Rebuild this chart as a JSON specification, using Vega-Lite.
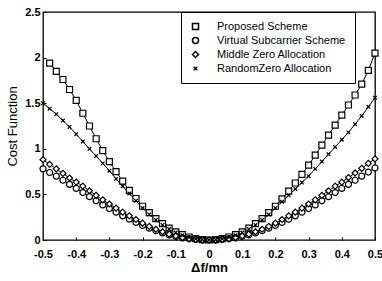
{
  "$schema": "https://vega.github.io/schema/vega-lite/v6.json",
  "width": 332,
  "height": 228,
  "autosize": "none",
  "padding": {"left": 43, "top": 12, "right": 7, "bottom": 41},
  "background": "white",
  "config": {
    "font": "Liberation Sans",
    "view": {"stroke": "black", "strokeWidth": 1.3},
    "axis": {"domain": false, "grid": false, "tickColor": "black", "tickSize": -3, "labelColor": "black", "labelFont": "Liberation Sans", "labelFontSize": 11, "labelFontWeight": "bold", "titleColor": "black", "titleFont": "Liberation Sans"}
  },
  "data": {"values": [
    {"s":"Proposed Scheme","x":-0.48,"y":1.94},{"s":"Proposed Scheme","x":-0.46,"y":1.85},{"s":"Proposed Scheme","x":-0.44,"y":1.76},{"s":"Proposed Scheme","x":-0.42,"y":1.65},{"s":"Proposed Scheme","x":-0.40,"y":1.53},{"s":"Proposed Scheme","x":-0.38,"y":1.39},{"s":"Proposed Scheme","x":-0.36,"y":1.25},{"s":"Proposed Scheme","x":-0.34,"y":1.11},{"s":"Proposed Scheme","x":-0.32,"y":0.98},{"s":"Proposed Scheme","x":-0.30,"y":0.86},{"s":"Proposed Scheme","x":-0.28,"y":0.75},{"s":"Proposed Scheme","x":-0.26,"y":0.645},{"s":"Proposed Scheme","x":-0.24,"y":0.545},{"s":"Proposed Scheme","x":-0.22,"y":0.455},{"s":"Proposed Scheme","x":-0.20,"y":0.37},{"s":"Proposed Scheme","x":-0.18,"y":0.30},{"s":"Proposed Scheme","x":-0.16,"y":0.235},{"s":"Proposed Scheme","x":-0.14,"y":0.18},{"s":"Proposed Scheme","x":-0.12,"y":0.13},{"s":"Proposed Scheme","x":-0.10,"y":0.09},{"s":"Proposed Scheme","x":-0.08,"y":0.058},{"s":"Proposed Scheme","x":-0.06,"y":0.033},{"s":"Proposed Scheme","x":-0.04,"y":0.015},{"s":"Proposed Scheme","x":-0.02,"y":0.004},{"s":"Proposed Scheme","x":0,"y":0},{"s":"Proposed Scheme","x":0.02,"y":0.004},{"s":"Proposed Scheme","x":0.04,"y":0.015},{"s":"Proposed Scheme","x":0.06,"y":0.033},{"s":"Proposed Scheme","x":0.08,"y":0.058},{"s":"Proposed Scheme","x":0.10,"y":0.09},{"s":"Proposed Scheme","x":0.12,"y":0.13},{"s":"Proposed Scheme","x":0.14,"y":0.18},{"s":"Proposed Scheme","x":0.16,"y":0.235},{"s":"Proposed Scheme","x":0.18,"y":0.30},{"s":"Proposed Scheme","x":0.20,"y":0.37},{"s":"Proposed Scheme","x":0.22,"y":0.45},{"s":"Proposed Scheme","x":0.24,"y":0.535},{"s":"Proposed Scheme","x":0.26,"y":0.625},{"s":"Proposed Scheme","x":0.28,"y":0.72},{"s":"Proposed Scheme","x":0.30,"y":0.82},{"s":"Proposed Scheme","x":0.32,"y":0.93},{"s":"Proposed Scheme","x":0.34,"y":1.04},{"s":"Proposed Scheme","x":0.36,"y":1.15},{"s":"Proposed Scheme","x":0.38,"y":1.26},{"s":"Proposed Scheme","x":0.40,"y":1.37},{"s":"Proposed Scheme","x":0.42,"y":1.48},{"s":"Proposed Scheme","x":0.44,"y":1.59},{"s":"Proposed Scheme","x":0.46,"y":1.71},{"s":"Proposed Scheme","x":0.48,"y":1.86},{"s":"Proposed Scheme","x":0.50,"y":2.05},

    {"s":"Virtual Subcarrier Scheme","x":-0.50,"y":0.78},{"s":"Virtual Subcarrier Scheme","x":-0.48,"y":0.74},{"s":"Virtual Subcarrier Scheme","x":-0.46,"y":0.70},{"s":"Virtual Subcarrier Scheme","x":-0.44,"y":0.655},{"s":"Virtual Subcarrier Scheme","x":-0.42,"y":0.61},{"s":"Virtual Subcarrier Scheme","x":-0.40,"y":0.565},{"s":"Virtual Subcarrier Scheme","x":-0.38,"y":0.52},{"s":"Virtual Subcarrier Scheme","x":-0.36,"y":0.475},{"s":"Virtual Subcarrier Scheme","x":-0.34,"y":0.43},{"s":"Virtual Subcarrier Scheme","x":-0.32,"y":0.385},{"s":"Virtual Subcarrier Scheme","x":-0.30,"y":0.345},{"s":"Virtual Subcarrier Scheme","x":-0.28,"y":0.305},{"s":"Virtual Subcarrier Scheme","x":-0.26,"y":0.265},{"s":"Virtual Subcarrier Scheme","x":-0.24,"y":0.228},{"s":"Virtual Subcarrier Scheme","x":-0.22,"y":0.193},{"s":"Virtual Subcarrier Scheme","x":-0.20,"y":0.16},{"s":"Virtual Subcarrier Scheme","x":-0.18,"y":0.13},{"s":"Virtual Subcarrier Scheme","x":-0.16,"y":0.102},{"s":"Virtual Subcarrier Scheme","x":-0.14,"y":0.077},{"s":"Virtual Subcarrier Scheme","x":-0.12,"y":0.056},{"s":"Virtual Subcarrier Scheme","x":-0.10,"y":0.038},{"s":"Virtual Subcarrier Scheme","x":-0.08,"y":0.023},{"s":"Virtual Subcarrier Scheme","x":-0.06,"y":0.013},{"s":"Virtual Subcarrier Scheme","x":-0.04,"y":0.006},{"s":"Virtual Subcarrier Scheme","x":-0.02,"y":0.0015},{"s":"Virtual Subcarrier Scheme","x":0,"y":0},{"s":"Virtual Subcarrier Scheme","x":0.02,"y":0.0015},{"s":"Virtual Subcarrier Scheme","x":0.04,"y":0.006},{"s":"Virtual Subcarrier Scheme","x":0.06,"y":0.013},{"s":"Virtual Subcarrier Scheme","x":0.08,"y":0.023},{"s":"Virtual Subcarrier Scheme","x":0.10,"y":0.038},{"s":"Virtual Subcarrier Scheme","x":0.12,"y":0.056},{"s":"Virtual Subcarrier Scheme","x":0.14,"y":0.077},{"s":"Virtual Subcarrier Scheme","x":0.16,"y":0.102},{"s":"Virtual Subcarrier Scheme","x":0.18,"y":0.13},{"s":"Virtual Subcarrier Scheme","x":0.20,"y":0.16},{"s":"Virtual Subcarrier Scheme","x":0.22,"y":0.193},{"s":"Virtual Subcarrier Scheme","x":0.24,"y":0.228},{"s":"Virtual Subcarrier Scheme","x":0.26,"y":0.265},{"s":"Virtual Subcarrier Scheme","x":0.28,"y":0.305},{"s":"Virtual Subcarrier Scheme","x":0.30,"y":0.345},{"s":"Virtual Subcarrier Scheme","x":0.32,"y":0.385},{"s":"Virtual Subcarrier Scheme","x":0.34,"y":0.43},{"s":"Virtual Subcarrier Scheme","x":0.36,"y":0.475},{"s":"Virtual Subcarrier Scheme","x":0.38,"y":0.52},{"s":"Virtual Subcarrier Scheme","x":0.40,"y":0.565},{"s":"Virtual Subcarrier Scheme","x":0.42,"y":0.61},{"s":"Virtual Subcarrier Scheme","x":0.44,"y":0.655},{"s":"Virtual Subcarrier Scheme","x":0.46,"y":0.70},{"s":"Virtual Subcarrier Scheme","x":0.48,"y":0.745},{"s":"Virtual Subcarrier Scheme","x":0.50,"y":0.79},

    {"s":"Middle Zero Allocation","x":-0.50,"y":0.88},{"s":"Middle Zero Allocation","x":-0.48,"y":0.83},{"s":"Middle Zero Allocation","x":-0.46,"y":0.78},{"s":"Middle Zero Allocation","x":-0.44,"y":0.73},{"s":"Middle Zero Allocation","x":-0.42,"y":0.68},{"s":"Middle Zero Allocation","x":-0.40,"y":0.635},{"s":"Middle Zero Allocation","x":-0.38,"y":0.59},{"s":"Middle Zero Allocation","x":-0.36,"y":0.54},{"s":"Middle Zero Allocation","x":-0.34,"y":0.49},{"s":"Middle Zero Allocation","x":-0.32,"y":0.44},{"s":"Middle Zero Allocation","x":-0.30,"y":0.395},{"s":"Middle Zero Allocation","x":-0.28,"y":0.35},{"s":"Middle Zero Allocation","x":-0.26,"y":0.305},{"s":"Middle Zero Allocation","x":-0.24,"y":0.265},{"s":"Middle Zero Allocation","x":-0.22,"y":0.225},{"s":"Middle Zero Allocation","x":-0.20,"y":0.185},{"s":"Middle Zero Allocation","x":-0.18,"y":0.15},{"s":"Middle Zero Allocation","x":-0.16,"y":0.118},{"s":"Middle Zero Allocation","x":-0.14,"y":0.09},{"s":"Middle Zero Allocation","x":-0.12,"y":0.065},{"s":"Middle Zero Allocation","x":-0.10,"y":0.044},{"s":"Middle Zero Allocation","x":-0.08,"y":0.027},{"s":"Middle Zero Allocation","x":-0.06,"y":0.015},{"s":"Middle Zero Allocation","x":-0.04,"y":0.007},{"s":"Middle Zero Allocation","x":-0.02,"y":0.002},{"s":"Middle Zero Allocation","x":0,"y":0},{"s":"Middle Zero Allocation","x":0.02,"y":0.002},{"s":"Middle Zero Allocation","x":0.04,"y":0.007},{"s":"Middle Zero Allocation","x":0.06,"y":0.015},{"s":"Middle Zero Allocation","x":0.08,"y":0.027},{"s":"Middle Zero Allocation","x":0.10,"y":0.044},{"s":"Middle Zero Allocation","x":0.12,"y":0.065},{"s":"Middle Zero Allocation","x":0.14,"y":0.09},{"s":"Middle Zero Allocation","x":0.16,"y":0.118},{"s":"Middle Zero Allocation","x":0.18,"y":0.15},{"s":"Middle Zero Allocation","x":0.20,"y":0.185},{"s":"Middle Zero Allocation","x":0.22,"y":0.225},{"s":"Middle Zero Allocation","x":0.24,"y":0.265},{"s":"Middle Zero Allocation","x":0.26,"y":0.305},{"s":"Middle Zero Allocation","x":0.28,"y":0.35},{"s":"Middle Zero Allocation","x":0.30,"y":0.395},{"s":"Middle Zero Allocation","x":0.32,"y":0.44},{"s":"Middle Zero Allocation","x":0.34,"y":0.49},{"s":"Middle Zero Allocation","x":0.36,"y":0.54},{"s":"Middle Zero Allocation","x":0.38,"y":0.59},{"s":"Middle Zero Allocation","x":0.40,"y":0.635},{"s":"Middle Zero Allocation","x":0.42,"y":0.685},{"s":"Middle Zero Allocation","x":0.44,"y":0.735},{"s":"Middle Zero Allocation","x":0.46,"y":0.785},{"s":"Middle Zero Allocation","x":0.48,"y":0.84},{"s":"Middle Zero Allocation","x":0.50,"y":0.89},

    {"s":"RandomZero Allocation","x":-0.50,"y":1.50},{"s":"RandomZero Allocation","x":-0.48,"y":1.44},{"s":"RandomZero Allocation","x":-0.46,"y":1.38},{"s":"RandomZero Allocation","x":-0.44,"y":1.31},{"s":"RandomZero Allocation","x":-0.42,"y":1.24},{"s":"RandomZero Allocation","x":-0.40,"y":1.16},{"s":"RandomZero Allocation","x":-0.38,"y":1.08},{"s":"RandomZero Allocation","x":-0.36,"y":1.00},{"s":"RandomZero Allocation","x":-0.34,"y":0.92},{"s":"RandomZero Allocation","x":-0.32,"y":0.84},{"s":"RandomZero Allocation","x":-0.30,"y":0.76},{"s":"RandomZero Allocation","x":-0.28,"y":0.67},{"s":"RandomZero Allocation","x":-0.26,"y":0.59},{"s":"RandomZero Allocation","x":-0.24,"y":0.51},{"s":"RandomZero Allocation","x":-0.22,"y":0.43},{"s":"RandomZero Allocation","x":-0.20,"y":0.35},{"s":"RandomZero Allocation","x":-0.18,"y":0.28},{"s":"RandomZero Allocation","x":-0.16,"y":0.22},{"s":"RandomZero Allocation","x":-0.14,"y":0.165},{"s":"RandomZero Allocation","x":-0.12,"y":0.12},{"s":"RandomZero Allocation","x":-0.10,"y":0.082},{"s":"RandomZero Allocation","x":-0.08,"y":0.052},{"s":"RandomZero Allocation","x":-0.06,"y":0.029},{"s":"RandomZero Allocation","x":-0.04,"y":0.013},{"s":"RandomZero Allocation","x":-0.02,"y":0.003},{"s":"RandomZero Allocation","x":0,"y":0},{"s":"RandomZero Allocation","x":0.02,"y":0.003},{"s":"RandomZero Allocation","x":0.04,"y":0.013},{"s":"RandomZero Allocation","x":0.06,"y":0.029},{"s":"RandomZero Allocation","x":0.08,"y":0.052},{"s":"RandomZero Allocation","x":0.10,"y":0.082},{"s":"RandomZero Allocation","x":0.12,"y":0.12},{"s":"RandomZero Allocation","x":0.14,"y":0.165},{"s":"RandomZero Allocation","x":0.16,"y":0.22},{"s":"RandomZero Allocation","x":0.18,"y":0.28},{"s":"RandomZero Allocation","x":0.20,"y":0.35},{"s":"RandomZero Allocation","x":0.22,"y":0.42},{"s":"RandomZero Allocation","x":0.24,"y":0.49},{"s":"RandomZero Allocation","x":0.26,"y":0.56},{"s":"RandomZero Allocation","x":0.28,"y":0.63},{"s":"RandomZero Allocation","x":0.30,"y":0.70},{"s":"RandomZero Allocation","x":0.32,"y":0.78},{"s":"RandomZero Allocation","x":0.34,"y":0.86},{"s":"RandomZero Allocation","x":0.36,"y":0.94},{"s":"RandomZero Allocation","x":0.38,"y":1.02},{"s":"RandomZero Allocation","x":0.40,"y":1.10},{"s":"RandomZero Allocation","x":0.42,"y":1.18},{"s":"RandomZero Allocation","x":0.44,"y":1.27},{"s":"RandomZero Allocation","x":0.46,"y":1.36},{"s":"RandomZero Allocation","x":0.48,"y":1.46},{"s":"RandomZero Allocation","x":0.50,"y":1.56}
  ]},
  "encoding": {
    "x": {"field": "x", "type": "quantitative", "scale": {"domain": [-0.5, 0.5], "nice": false},
      "axis": {"title": "Δf/mn", "values": [-0.5,-0.4,-0.3,-0.2,-0.1,0,0.1,0.2,0.3,0.4,0.5], "labelExpr": "datum.value < 0 ? '-' + format(-datum.value, '~g') : format(datum.value, '~g')", "labelPadding": 11, "labelFlush": false, "labelOverlap": false, "titleFontSize": 13, "titleFontWeight": "bold", "titlePadding": 2}},
    "y": {"field": "y", "type": "quantitative", "scale": {"domain": [0, 2.5], "nice": false},
      "axis": {"title": "Cost Function", "values": [0,0.5,1,1.5,2,2.5], "labelExpr": "format(datum.value, '~g')", "labelPadding": 6, "labelFlush": false, "titleFontSize": 13, "titleFontWeight": "normal", "titlePadding": 5}}
  },
  "layer": [
    {"mark": {"type": "line", "color": "black", "strokeWidth": 1}, "encoding": {"detail": {"field": "s"}}},
    {"mark": {"type": "point", "filled": true, "fill": "white", "stroke": "black", "strokeWidth": 1.2, "opacity": 1, "size": 36},
     "encoding": {"shape": {"field": "s", "type": "nominal",
       "scale": {"domain": ["Proposed Scheme", "Virtual Subcarrier Scheme", "Middle Zero Allocation", "RandomZero Allocation"], "range": ["square", "circle", "diamond", "M-0.6,-0.6L0.6,0.6M-0.6,0.6L0.6,-0.6"]},
       "legend": {"title": null, "orient": "none", "legendX": 138, "legendY": 0, "padding": 9, "strokeColor": "black", "fillColor": "white", "symbolSize": 36, "labelFontSize": 11, "labelFont": "Liberation Sans", "labelColor": "black", "labelOffset": 16, "rowPadding": 1, "labelLimit": 300,
         "labelExpr": "datum.label + '\u00a0\u00a0\u00a0\u00a0\u00a0\u00a0\u00a0\u00a0'"}}}}
  ]
}
